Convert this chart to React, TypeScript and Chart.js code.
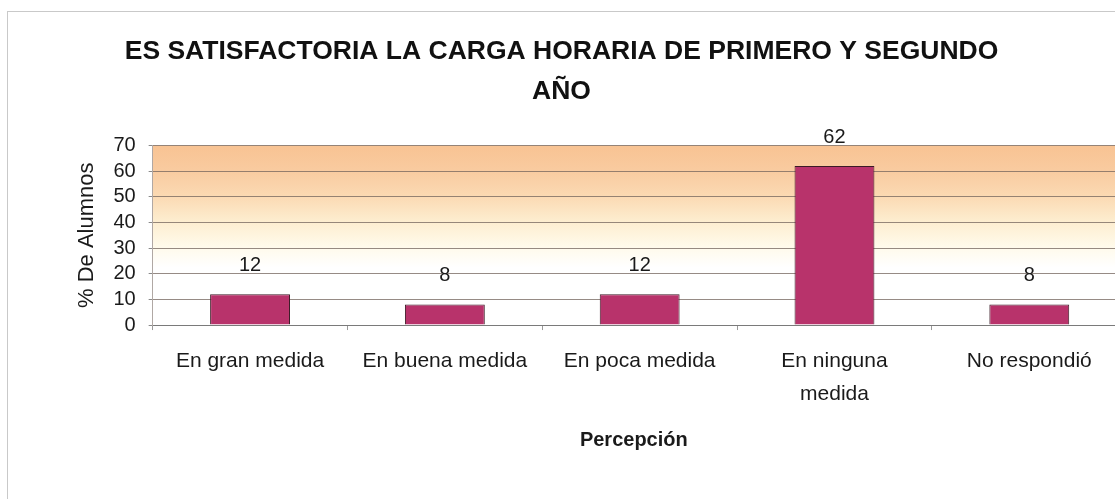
import React, { useEffect, useRef } from 'react';
import { Chart, registerables } from 'chart.js';

Chart.register(...registerables);

const titleLines = ['ES SATISFACTORIA LA CARGA HORARIA DE PRIMERO Y SEGUNDO', 'AÑO'];
const categories: (string | string[])[] = [
  'En gran medida',
  'En buena medida',
  'En poca medida',
  ['En ninguna', 'medida'],
  'No respondió',
];
const values = [12, 8, 12, 62, 8];
const yMin = 0;
const yMax = 70;
const yStep = 10;
const yAxisTitle = '% De Alumnos';
const xAxisTitle = 'Percepción';

const FONT = '"Liberation Sans", Arial, Helvetica, sans-serif';

const bgPlugin = {
  id: 'plotBg',
  beforeDraw(chart: any) {
    const { ctx, chartArea: a } = chart;
    const g = ctx.createLinearGradient(0, a.top, 0, a.bottom);
    g.addColorStop(0, '#f8c393');
    g.addColorStop(0.14, '#f9cba0');
    g.addColorStop(0.28, '#fbd9b2');
    g.addColorStop(0.42, '#fdedcf');
    g.addColorStop(0.56, '#fffaea');
    g.addColorStop(0.68, '#ffffff');
    g.addColorStop(1, '#ffffff');
    ctx.save();
    ctx.fillStyle = g;
    ctx.fillRect(a.left, a.top, a.right - a.left, a.bottom - a.top);
    ctx.restore();
  },
};

const valueLabels = {
  id: 'valueLabels',
  afterDatasetsDraw(chart: any) {
    const { ctx } = chart;
    const meta = chart.getDatasetMeta(0);
    ctx.save();
    ctx.font = `20px ${FONT}`;
    ctx.fillStyle = '#1a1a1a';
    ctx.textAlign = 'center';
    ctx.textBaseline = 'middle';
    meta.data.forEach((bar: any, i: number) => {
      ctx.fillText(String(values[i]), bar.x, bar.y - 29);
    });
    ctx.restore();
  },
};

export default function App() {
  const ref = useRef<HTMLCanvasElement | null>(null);

  useEffect(() => {
    if (!ref.current) return;
    const chart = new Chart(ref.current, {
      type: 'bar',
      data: {
        datasets: [
          {
            data: values.map((v, i) => ({ x: i, y: v })),
            backgroundColor: '#b8336b',
            borderColor: '#3b1a26',
            borderWidth: 1,
            categoryPercentage: 1,
            barPercentage: 0.41,
          },
        ],
      },
      options: {
        responsive: false,
        animation: false,
        events: [],
        layout: { padding: { left: 0, right: 0, top: 0, bottom: 0 } },
        plugins: {
          legend: { display: false },
          tooltip: { enabled: false },
          title: {
            display: true,
            text: titleLines,
            color: '#111',
            font: { family: FONT, size: 26.5, weight: 'bold', lineHeight: 1.5 },
            padding: { top: 20, bottom: 34 },
          },
        },
        scales: {
          x: {
            type: 'linear',
            offset: false,
            min: -0.5,
            max: 4.44,
            afterBuildTicks: (scale: any) => {
              scale.ticks = categories.map((_, i) => ({ value: i }));
            },
            ticks: {
              autoSkip: false,
              maxRotation: 0,
              minRotation: 0,
              includeBounds: false,
              padding: 15,
              color: '#1a1a1a',
              font: { family: FONT, size: 21, lineHeight: 1.57 },
              callback: (v: any) => categories[Math.round(Number(v))] as any,
            },
            grid: {
              offset: true,
              drawOnChartArea: false,
              drawTicks: true,
              tickLength: 5,
              tickColor: '#9a9a9a',
            },
            border: { display: true, color: '#7a7a7a', width: 1 },
            title: {
              display: true,
              text: xAxisTitle,
              color: '#1a1a1a',
              font: { family: FONT, size: 20, weight: 'bold', lineHeight: 1.2 },
              padding: { top: 2, bottom: 47 },
            },
          },
          y: {
            min: yMin,
            max: yMax,
            ticks: {
              stepSize: yStep,
              autoSkip: false,
              padding: 13,
              color: '#1a1a1a',
              font: { family: FONT, size: 20, lineHeight: 1 },
            },
            grid: {
              color: 'rgba(115,100,92,0.75)',
              lineWidth: 1,
              tickLength: 4,
              tickColor: '#8a8a8a',
            },
            border: { display: true, color: '#b0a8a4', width: 1 },
            title: {
              display: true,
              text: yAxisTitle,
              color: '#1a1a1a',
              font: { family: FONT, size: 22, lineHeight: 1.2 },
              padding: { top: 66, bottom: 0 },
            },
          },
        },
      } as any,
      plugins: [bgPlugin, valueLabels],
    });
    return () => chart.destroy();
  }, []);

  return (
    <div
      style={{
        position: 'fixed',
        left: 0,
        top: 0,
        width: 1115,
        height: 499,
        overflow: 'hidden',
        background: '#ffffff',
      }}
    >
      <div
        style={{
          position: 'absolute',
          left: 7,
          top: 11,
          width: 1120,
          height: 500,
          borderLeft: '1px solid #c9c9c9',
          borderTop: '1px solid #c9c9c9',
        }}
      >
        <canvas ref={ref} width={1107} height={487} style={{ display: 'block' }} />
      </div>
    </div>
  );
}
